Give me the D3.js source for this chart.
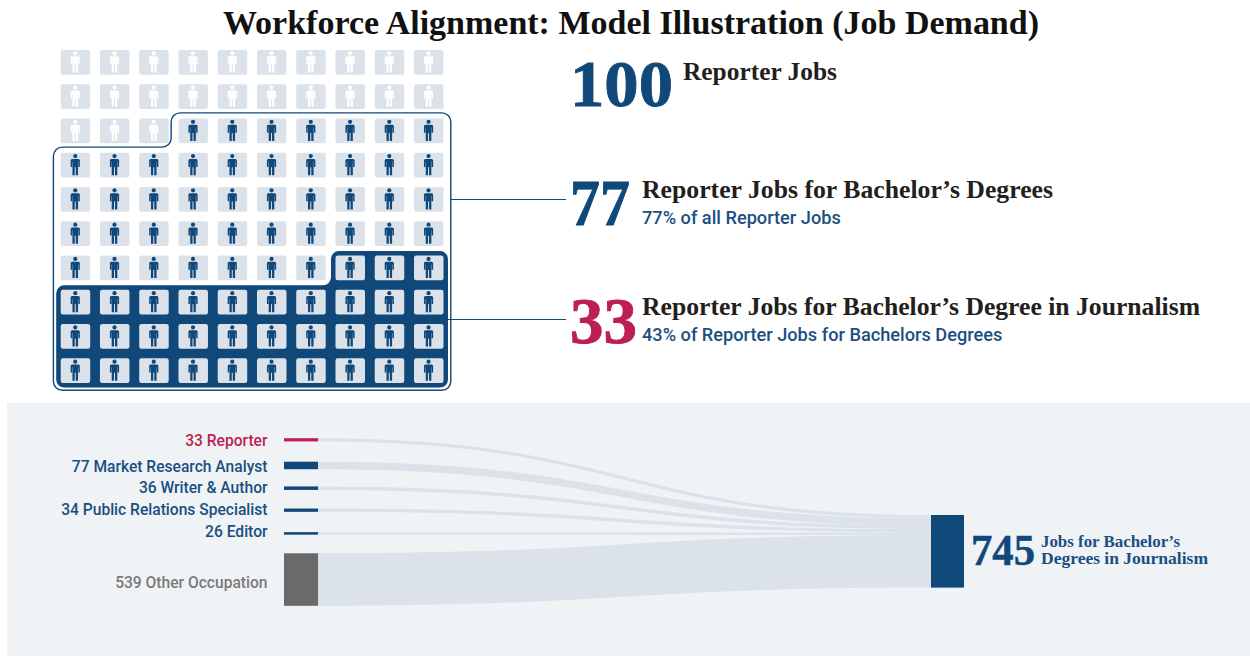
<!DOCTYPE html>
<html>
<head>
<meta charset="utf-8">
<script src="https://cdn.jsdelivr.net/npm/d3@7"></script>
<style>
  html, body { margin: 0; padding: 0; background: #fff; }
  svg { display: block; }
  .serif { font-family: "Liberation Serif", serif; font-weight: 700; }
  .sans { font-family: Roboto, sans-serif; font-weight: 500; }
</style>
</head>
<body>
<svg id="chart" width="1250" height="656"></svg>
<script>
// Unit grid: how many of 100 reporter jobs fall in each nested group
const totalJobs = 100;
const bachelorJobs = 77;
const journalismJobs = 33;

// Flow from occupations into jobs for journalism graduates
const occupations = ["Reporter", "Market Research Analyst", "Writer & Author", "Public Relations Specialist", "Editor", "Other Occupation"];
const occupationJobs = [33, 77, 36, 34, 26, 539];
const flowTotal = 745;

const navy = "#11487a";
const textBlue = "#1b4f80";
const crimson = "#bc1f50";
const grey = "#6a6a6a";
const pale = "#dce2ea";
const ink = "#231f20";

const svg = d3.select("#chart");

// Serif text is stretched slightly to hold the width of the headline face
function serifText(g, str, x, baseline, size, fill, width) {
  return g.append("text").attr("class", "serif")
    .attr("x", x).attr("y", baseline)
    .attr("font-size", size).attr("fill", fill)
    .attr("textLength", width).attr("lengthAdjust", "spacingAndGlyphs")
    .text(str);
}
function bigNumber(g, str, x, baseline, size, fill, width) {
  return serifText(g, str, x, baseline, size, fill, width)
    .attr("stroke", fill).attr("stroke-width", size > 50 ? 0.9 : 0.5);
}
function sansText(g, str, x, baseline, size, fill, anchor) {
  return g.append("text").attr("class", "sans")
    .attr("x", x).attr("y", baseline)
    .attr("font-size", size).attr("fill", fill)
    .attr("text-anchor", anchor || "start")
    .text(str);
}

serifText(svg, "Workforce Alignment: Model Illustration (Job Demand)", 223, 34, 33.5, "#111", 816);

// ---- Waffle grid ----
const cols = 10, rows = 10;
const cellW = 29.5, cellH = 24.7;
const x = d3.scaleLinear().domain([0, cols - 1]).range([60.7, 414]);
const y = d3.scaleLinear().domain([0, rows - 1]).range([50, 358.3]);

// Outline of the last n cells in reading order, with rounded corners
function regionPath(n, pad, padTop, r) {
  const first = totalJobs - n;
  const row = Math.floor(first / cols), col = first % cols;
  const left = x(0) - pad, right = x(cols - 1) + cellW + pad;
  const bottom = y(rows - 1) + cellH + pad;
  const top = y(row) - padTop;
  const pts = [];
  if (col === 0) {
    pts.push([left, top], [right, top], [right, bottom], [left, bottom]);
  } else {
    const stepX = x(col) - pad, stepY = y(row + 1) - padTop;
    pts.push([stepX, top], [right, top], [right, bottom], [left, bottom], [left, stepY], [stepX, stepY]);
  }
  const p = d3.path();
  const m = [(pts[0][0] + pts[1][0]) / 2, pts[0][1]];
  p.moveTo(m[0], m[1]);
  for (let i = 1; i <= pts.length; i++) {
    const a = pts[i % pts.length], b = pts[(i + 1) % pts.length];
    p.arcTo(a[0], a[1], b[0], b[1], r);
  }
  p.closePath();
  return p.toString();
}

const defs = svg.append("defs");
defs.append("g").attr("id", "person").call(g => {
  g.append("circle").attr("cx", 0).attr("cy", -8.6).attr("r", 2.1);
  g.append("path").attr("d",
    "M-3.2,-5.7 H3.2 Q4.6,-5.7 4.6,-4.2 V2.2 H3.1 V-3 H2.8 V10.5 H0.5 V2.6 H-0.5 V10.5 H-2.8 V-3 H-3.1 V2.2 H-4.6 V-4.2 Q-4.6,-5.7 -3.2,-5.7 Z");
});

const waffle = svg.append("g");
waffle.append("path").attr("d", regionPath(bachelorJobs, 7.3, 5.6, 9))
  .attr("fill", "none").attr("stroke", navy).attr("stroke-width", 1.4);
waffle.append("path").attr("d", regionPath(journalismJobs, 4.5, 4.5, 8)).attr("fill", navy);

const cells = waffle.selectAll("g.cell").data(d3.range(totalJobs)).join("g")
  .attr("class", "cell")
  .attr("transform", i => `translate(${x(i % cols)},${y(Math.floor(i / cols))})`);
cells.append("rect")
  .attr("width", cellW).attr("height", cellH).attr("rx", 2.2)
  .attr("fill", pale);
cells.append("use").attr("href", "#person")
  .attr("x", cellW / 2 - 0.2).attr("y", cellH / 2 - 0.4)
  .attr("fill", i => i < totalJobs - bachelorJobs ? "#fff" : navy);

// ---- Stat callouts ----
const stats = svg.append("g");
bigNumber(stats, String(totalJobs), 570, 106, 66, navy, 103);
serifText(stats, "Reporter Jobs", 683, 80, 26, ink, 154);

stats.append("line").attr("x1", 451).attr("x2", 566).attr("y1", 199.5).attr("y2", 199.5)
  .attr("stroke", navy).attr("stroke-width", 1.1);
bigNumber(stats, String(bachelorJobs), 570, 225, 66, navy, 60);
serifText(stats, "Reporter Jobs for Bachelor’s Degrees", 642, 197.5, 26, ink, 411);
sansText(stats, `${bachelorJobs}% of all Reporter Jobs`, 642, 224, 18.2, textBlue);

stats.append("line").attr("x1", 447).attr("x2", 566).attr("y1", 319.5).attr("y2", 319.5)
  .attr("stroke", navy).attr("stroke-width", 1.1);
bigNumber(stats, String(journalismJobs), 570, 343, 66, crimson, 67);
serifText(stats, "Reporter Jobs for Bachelor’s Degree in Journalism", 642, 314.5, 26, ink, 558);
sansText(stats, `${Math.round(journalismJobs / bachelorJobs * 100)}% of Reporter Jobs for Bachelors Degrees`, 642, 341, 18.2, textBlue);

// ---- Flow panel ----
svg.append("rect").attr("x", 7).attr("y", 403).attr("width", 1243).attr("height", 253).attr("fill", "#eff3f6");

const flowScale = d3.scaleLinear().domain([0, flowTotal]).range([0, 72.6]);
const nodeColor = [crimson, navy, navy, navy, navy, grey];
const labelColor = [crimson, textBlue, textBlue, textBlue, textBlue, "#7a7a7a"];
const srcX0 = 284, srcX1 = 318, tgtX0 = 931, tgtX1 = 964;
const tgtTop = 515;

// Stack source bars with their gaps, and target segments flush
const gapBefore = [438.2, 20.3, 17.2, 18.6, 20.3, 18.6];
const labelDrop = [5.7, 6.2, 4.5, 4.7, 3.6, 8.6];
let srcCursor = 0, tgtCursor = tgtTop;
const nodes = occupationJobs.map((v, i) => {
  const h = flowScale(v);
  srcCursor += gapBefore[i];
  const n = { name: occupations[i], value: v, h, y0: srcCursor, t0: tgtCursor, i };
  srcCursor += h;
  tgtCursor += h;
  return n;
});

const band = d3.area().curve(d3.curveBumpX)
  .x(d => d.x).y0(d => d.y0).y1(d => d.y1);

const flow = svg.append("g");
flow.selectAll("path.link").data(nodes).join("path")
  .attr("class", "link")
  .attr("fill", pale)
  .attr("d", n => band([
    { x: srcX1, y0: n.y0, y1: n.y0 + n.h },
    { x: tgtX0, y0: n.t0, y1: n.t0 + n.h }
  ]));
flow.selectAll("rect.src").data(nodes).join("rect")
  .attr("class", "src")
  .attr("x", srcX0).attr("width", srcX1 - srcX0)
  .attr("y", n => n.y0).attr("height", n => n.h)
  .attr("fill", n => nodeColor[n.i]);
flow.selectAll("text.lab").data(nodes).join("text")
  .attr("class", "lab sans")
  .attr("x", 267.5).attr("y", n => n.y0 + n.h / 2 + labelDrop[n.i])
  .attr("font-size", 15.6).attr("text-anchor", "end")
  .attr("fill", n => labelColor[n.i])
  .text(n => `${n.value} ${n.name}`);

flow.append("rect").attr("x", tgtX0).attr("width", tgtX1 - tgtX0)
  .attr("y", tgtTop).attr("height", flowScale(flowTotal)).attr("fill", navy);

bigNumber(flow, String(flowTotal), 971, 565, 45, navy, 64);
serifText(flow, "Jobs for Bachelor’s", 1041, 547, 16, textBlue, 139);
serifText(flow, "Degrees in Journalism", 1041, 564, 16, textBlue, 167);
</script>
</body>
</html>
